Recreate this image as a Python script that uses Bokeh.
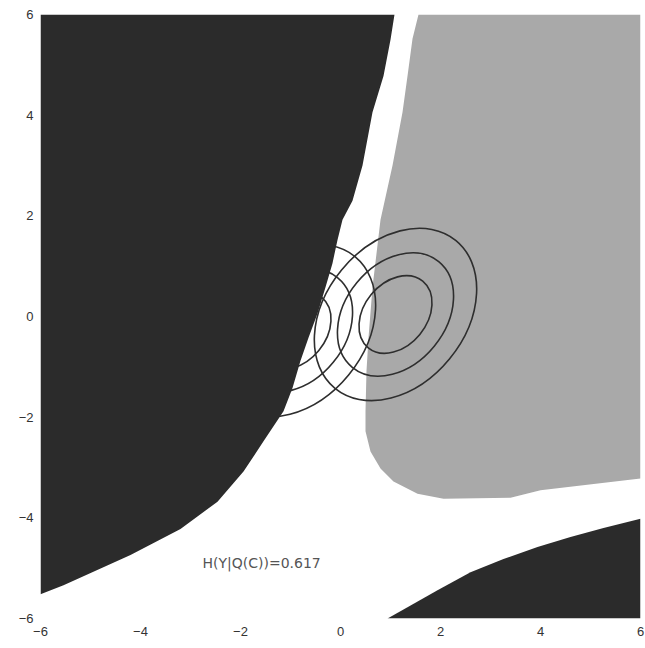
from bokeh.plotting import figure
from bokeh.models import Range1d, FixedTicker, Label
from bokeh.embed import file_html
from bokeh.resources import INLINE

# --- data -------------------------------------------------------------
# left dark decision region (boundary polygon)
dark_left_x = [-6, 1.08, 1.0, 0.86, 0.64, 0.44, 0.24, 0.04, -0.06, -0.16, -0.3, -0.46,
               -0.64, -0.8, -0.96, -1.14, -1.54, -1.94, -2.46, -3.2, -4.2, -5.54, -6]
dark_left_y = [6, 6, 5.5, 4.78, 4.06, 3.0, 2.3, 1.92, 1.52, 1.06, 0.58, 0.06,
               -0.42, -0.88, -1.42, -1.88, -2.48, -3.08, -3.68, -4.22, -4.74, -5.34, -5.52]

# bottom-right dark region
dark_br_x = [0.94, 1.26, 1.94, 2.6, 3.26, 3.94, 4.6, 5.26, 6, 6]
dark_br_y = [-6, -5.82, -5.44, -5.08, -4.82, -4.58, -4.38, -4.2, -4.02, -6]

# gray decision region
gray_x = [1.56, 1.44, 1.34, 1.24, 1.04, 0.8, 0.64, 0.56, 0.52, 0.5, 0.5, 0.6, 0.8,
          1.06, 1.54, 2.06, 3.4, 4.0, 6, 6]
gray_y = [6, 5.52, 4.78, 4.06, 3.0, 1.92, 0.58, -0.42, -1.08, -1.88, -2.28, -2.68, -3.02,
          -3.28, -3.52, -3.62, -3.6, -3.45, -3.22, 6]

# Gaussian contour ellipses (two classes, three levels each)
ell_cx = [1.1, 1.1, 1.1, -0.92, -0.92, -0.92]
ell_cy = [0.04, 0.04, 0.04, -0.28, -0.28, -0.28]
ell_w = [3.82, 2.73, 1.72, 3.82, 2.73, 1.72]
ell_h = [2.78, 1.99, 1.25, 2.78, 1.99, 1.25]
ell_angle = [50.7, 50.7, 50.7, 50.7, 50.7, 50.7]

ticks = [-6, -4, -2, 0, 2, 4, 6]
annotation = "H(Y|Q(C))=0.617"

# --- figure -----------------------------------------------------------
p = figure(width=645, height=648, output_backend="svg", toolbar_location=None,
           x_range=Range1d(-6, 6), y_range=Range1d(-6, 6),
           min_border_left=40, min_border_right=5, min_border_top=14, min_border_bottom=30)
p.outline_line_color = None
p.xgrid.visible = False
p.ygrid.visible = False
p.background_fill_color = "white"
p.border_fill_color = "white"

p.patch(gray_x, gray_y, fill_color="#a9a9a9", line_color=None)
p.ellipse(x=ell_cx, y=ell_cy, width=ell_w, height=ell_h, angle=ell_angle,
          angle_units="deg", fill_color=None, line_color="#2e2e2e", line_width=1.6)
p.patch(dark_left_x, dark_left_y, fill_color="#2b2b2b", line_color=None)
p.patch(dark_br_x, dark_br_y, fill_color="#2b2b2b", line_color=None)

p.add_layout(Label(x=-2.76, y=-5.06, text=annotation, text_font="DejaVu Sans",
                   text_font_size="14px", text_color="#555555"))

for ax in (p.xaxis[0], p.yaxis[0]):
    ax.ticker = FixedTicker(ticks=ticks)
    ax.axis_line_color = None
    ax.major_tick_line_color = None
    ax.minor_tick_line_color = None
    ax.major_tick_out = 0
    ax.major_tick_in = 0
    ax.minor_tick_out = 0
    ax.major_label_text_font = "Liberation Sans"
    ax.major_label_text_font_size = "13px"
    ax.major_label_text_color = "#333333"
p.yaxis[0].major_label_standoff = 7
p.xaxis[0].major_label_standoff = 8

open("out.html", "w").write(file_html(p, INLINE))
